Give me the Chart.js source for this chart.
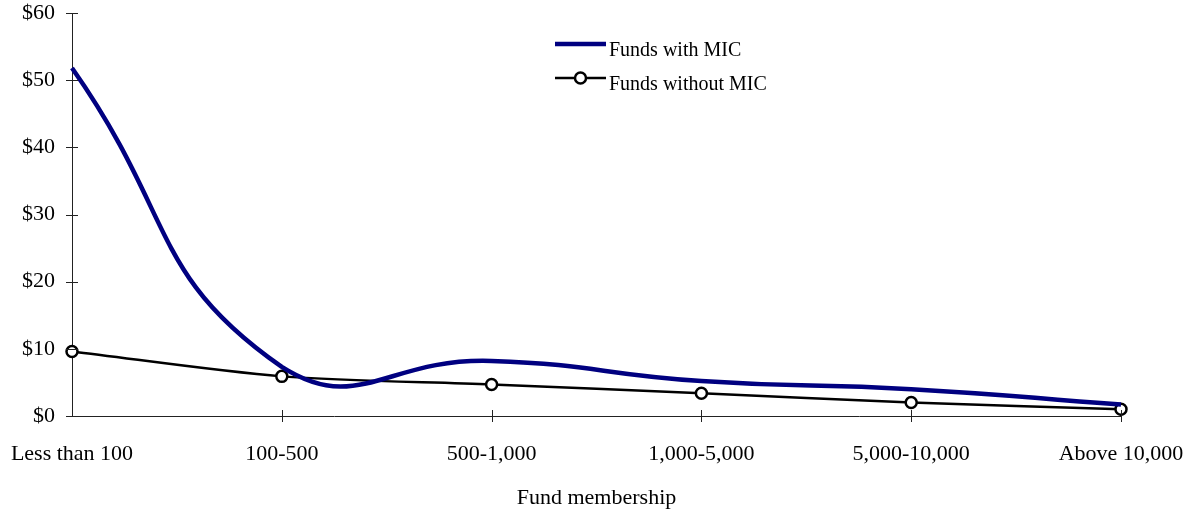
<!DOCTYPE html>
<html>
<head>
<meta charset="utf-8">
<script src="https://cdn.jsdelivr.net/npm/chart.js@4/dist/chart.umd.min.js"></script>
<style>
  html, body { margin: 0; padding: 0; background: #fff; }
  #wrap { width: 1195px; height: 513px; position: relative; }
</style>
</head>
<body>
<div id="wrap"><canvas id="c" width="1195" height="513"></canvas></div>
<script>
// Fund membership size bands
const categories = ['Less than 100', '100-500', '500-1,000', '1,000-5,000', '5,000-10,000', 'Above 10,000'];
// Average cost per member, dollars
const withMIC = [51.8, 7.3, 8.2, 5.2, 4.0, 1.7];
const withoutMIC = [9.6, 5.9, 4.7, 3.4, 2.0, 1.0];
const seriesNames = ['Funds with MIC', 'Funds without MIC'];
const yTicks = [0, 10, 20, 30, 40, 50, 60];

const FONT = '"Liberation Serif", "Times New Roman", serif';
const AXIS_COLOR = '#222';

// Short tick marks that cross each axis line
const crossTicks = {
  id: 'crossTicks',
  afterDraw(chart) {
    const { ctx, chartArea, scales } = chart;
    ctx.save();
    ctx.strokeStyle = AXIS_COLOR;
    ctx.lineWidth = 1;
    ctx.beginPath();
    scales.y.ticks.forEach((t, i) => {
      const y = Math.round(scales.y.getPixelForTick(i)) + 0.5;
      ctx.moveTo(chartArea.left - 6, y);
      ctx.lineTo(chartArea.left + 6, y);
    });
    scales.x.ticks.forEach((t, i) => {
      if (i === 0) return;
      const x = Math.round(scales.x.getPixelForTick(i)) + 0.5;
      ctx.moveTo(x, chartArea.bottom - 6);
      ctx.lineTo(x, chartArea.bottom + 6);
    });
    ctx.stroke();
    ctx.restore();
  }
};

// Legend drawn inside the plot area
const innerLegend = {
  id: 'innerLegend',
  afterDraw(chart) {
    const { ctx } = chart;
    const x0 = 555, x1 = 606, tx = 609;
    const rows = [44, 78];
    ctx.save();
    chart.data.datasets.forEach((ds, i) => {
      const y = rows[i];
      ctx.strokeStyle = ds.borderColor;
      ctx.lineWidth = ds.borderWidth;
      ctx.beginPath();
      ctx.moveTo(x0, y);
      ctx.lineTo(x1, y);
      ctx.stroke();
      if (ds.pointRadius > 0) {
        ctx.beginPath();
        ctx.arc((x0 + x1) / 2, y, ds.pointRadius, 0, Math.PI * 2);
        ctx.fillStyle = ds.pointBackgroundColor;
        ctx.fill();
        ctx.lineWidth = ds.pointBorderWidth;
        ctx.strokeStyle = ds.pointBorderColor;
        ctx.stroke();
      }
      ctx.fillStyle = '#000';
      ctx.font = '20px ' + FONT;
      ctx.textBaseline = 'alphabetic';
      ctx.textAlign = 'left';
      ctx.fillText(ds.label, tx, y + 12);
    });
    ctx.restore();
  }
};

new Chart(document.getElementById('c'), {
  type: 'line',
  data: {
    labels: categories,
    datasets: [
      {
        label: seriesNames[0],
        data: withMIC,
        borderColor: '#000080',
        borderWidth: 4.5,
        pointRadius: 0,
        tension: 0.5,
        fill: false
      },
      {
        label: seriesNames[1],
        data: withoutMIC,
        borderColor: '#000',
        borderWidth: 2.5,
        pointRadius: 5.5,
        pointBackgroundColor: '#fff',
        pointBorderColor: '#000',
        pointBorderWidth: 2.5,
        tension: 0.3,
        fill: false
      }
    ]
  },
  options: {
    responsive: false,
    animation: false,
    devicePixelRatio: 1,
    layout: { padding: { left: 0, top: 13, right: 74, bottom: 0 } },
    plugins: {
      legend: { display: false },
      tooltip: { enabled: false }
    },
    scales: {
      x: {
        offset: false,
        afterFit(scale) {
          scale.height = 97;
          scale.paddingLeft = 0;
          scale.paddingRight = 0;
        },
        grid: { display: true, drawOnChartArea: false, drawTicks: false },
        border: { display: true, color: AXIS_COLOR, width: 1 },
        ticks: {
          color: '#000',
          font: { family: FONT, size: 22 },
          padding: 25,
          maxRotation: 0,
          autoSkip: false
        },
        title: {
          display: true,
          text: 'Fund membership',
          color: '#000',
          font: { family: FONT, size: 22 },
          padding: { top: 0, bottom: 2 }
        }
      },
      y: {
        min: 0,
        max: 60,
        afterFit(scale) {
          scale.width = 72;
          scale.paddingTop = 0;
          scale.paddingBottom = 0;
        },
        afterBuildTicks(scale) { scale.ticks = yTicks.map(v => ({ value: v })); },
        grid: { display: true, drawOnChartArea: false, drawTicks: false },
        border: { display: true, color: AXIS_COLOR, width: 1 },
        ticks: {
          color: '#000',
          font: { family: FONT, size: 22 },
          padding: 17,
          callback: v => '$' + v
        }
      }
    }
  },
  plugins: [crossTicks, innerLegend]
});
</script>
</body>
</html>
